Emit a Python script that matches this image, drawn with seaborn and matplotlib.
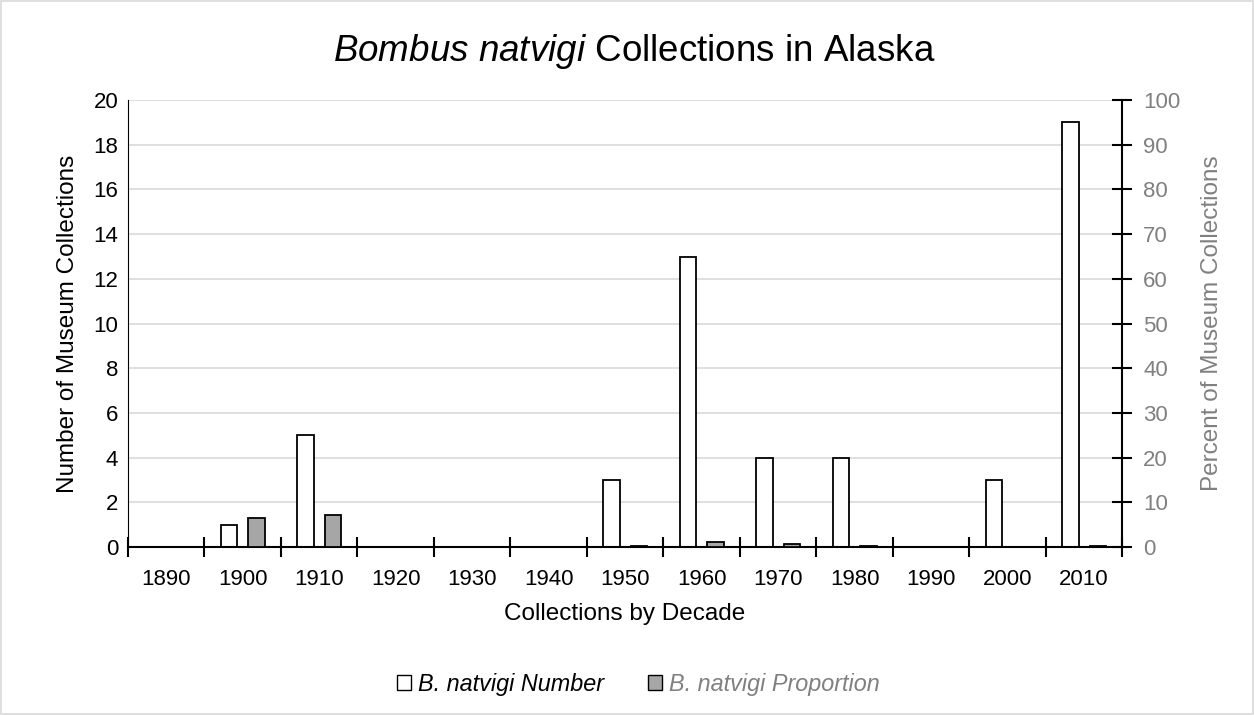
import numpy as np
import pandas as pd
import matplotlib
matplotlib.use("Agg")
import matplotlib.pyplot as plt
import seaborn as sns
from matplotlib.patches import Patch, Rectangle
from matplotlib.ticker import FixedLocator, MultipleLocator

# --- Data ---
decades = ["1890", "1900", "1910", "1920", "1930", "1940", "1950",
           "1960", "1970", "1980", "1990", "2000", "2010"]
number = [0, 1, 5, 0, 0, 0, 3, 13, 4, 4, 0, 3, 19]
proportion = [0, 6.4, 7.1, 0, 0, 0, 0.3, 1.2, 0.6, 0.3, 0, 0.1, 0.3]
series = ["B. natvigi Number", "B. natvigi Proportion"]

df_num = pd.DataFrame({"decade": decades, "value": number, "series": series[0]})
df_prop = pd.DataFrame({"decade": decades, "value": proportion, "series": series[1]})

# --- Style ---
sns.set_style("white", {"text.color": "black", "axes.labelcolor": "black",
                        "xtick.color": "black", "ytick.color": "black"})
plt.rcParams["font.family"] = ["Liberation Sans", "DejaVu Sans"]
plt.rcParams["mathtext.fontset"] = "custom"
plt.rcParams["mathtext.rm"] = "Liberation Sans"
plt.rcParams["mathtext.it"] = "Liberation Sans:italic"

GRID = "#d9d9d9"
GRAY_TXT = "#808080"
colors = {series[0]: "white", series[1]: "#a6a6a6"}

fig = plt.figure(figsize=(12.54, 7.15), dpi=100)
ax = fig.add_axes([0.102, 0.235, 0.793, 0.625])
ax2 = ax.twinx()

# both series keep their slot in each decade, one on each y axis
bar_kw = dict(x="decade", y="value", hue="series", hue_order=series,
              order=decades, palette=colors, width=0.72, gap=0.4, dodge=True,
              edgecolor="black", linewidth=1.3, legend=False)
sns.barplot(data=df_num, ax=ax, **bar_kw)
sns.barplot(data=df_prop, ax=ax2, **bar_kw)

ax.set_ylim(0, 20)
ax2.set_ylim(0, 100)
ax.set_xlim(-0.5, 12.5)
ax.yaxis.set_major_locator(MultipleLocator(2))
ax2.yaxis.set_major_locator(MultipleLocator(10))

ax.set_axisbelow(True)
ax.grid(axis="y", color=GRID, linewidth=1.2)

for a in (ax, ax2):
    for s in a.spines.values():
        s.set_visible(False)
ax.spines["left"].set_visible(True)
ax.spines["left"].set_color("black")
ax.spines["bottom"].set_visible(True)
ax.spines["bottom"].set_color("black")
ax.spines["bottom"].set_linewidth(1.5)
ax2.spines["right"].set_visible(True)
ax2.spines["right"].set_color("black")
ax2.spines["right"].set_linewidth(1.5)

# x ticks: labels at category centres, tick marks at boundaries
ax.tick_params(axis="x", which="major", length=0, labelsize=16, pad=16)
ax.xaxis.set_minor_locator(FixedLocator(np.arange(-0.5, 13.0, 1.0)))
ax.tick_params(axis="x", which="minor", direction="inout", length=14,
               width=1.5, color="black", bottom=True)
ax.tick_params(axis="y", length=0, labelsize=16, pad=7, left=False)
ax2.tick_params(axis="y", direction="inout", length=14, width=1.5,
                color="black", labelcolor=GRAY_TXT, labelsize=16, pad=8)

ax.set_xlabel("Collections by Decade", fontsize=17.5, labelpad=9)
ax.set_ylabel("Number of Museum Collections", fontsize=17.5, labelpad=10)
ax2.set_ylabel("Percent of Museum Collections", fontsize=17.5,
               color=GRAY_TXT, labelpad=15)

fig.suptitle(r"$\it{Bombus\ natvigi}$ Collections in Alaska",
             fontsize=26.5, x=0.506, y=0.955, color="black")

handles = [Patch(facecolor=colors[s], edgecolor="black", linewidth=1) for s in series]
leg = fig.legend(handles, series, loc="center", bbox_to_anchor=(0.509, 0.043),
                 ncol=2, frameon=False, handlelength=0.6, handleheight=0.6,
                 handletextpad=0.3, columnspacing=1.9,
                 prop={"size": 16.8, "style": "italic"})
leg.get_texts()[0].set_color("black")
leg.get_texts()[1].set_color(GRAY_TXT)

fig.patches.append(Rectangle((0.001, 0.001), 0.998, 0.998, transform=fig.transFigure,
                             fill=False, edgecolor=GRID, linewidth=1.2))

fig.savefig("out.png", dpi=100)
